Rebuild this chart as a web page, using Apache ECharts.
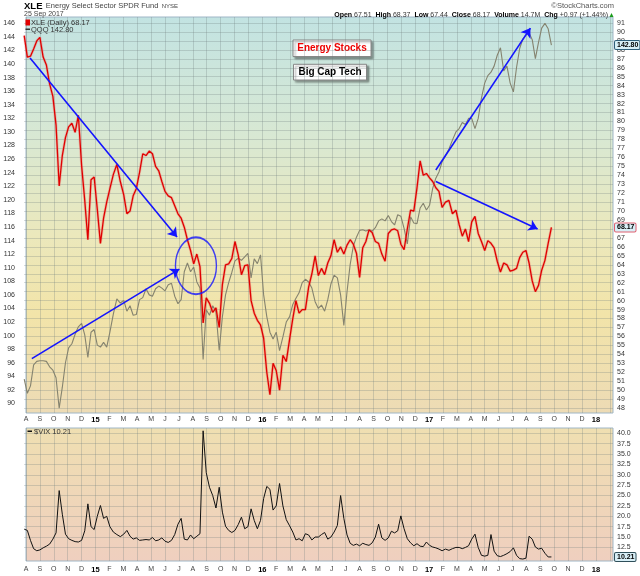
<!DOCTYPE html>
<html><head><meta charset="utf-8">
<script src="https://cdn.jsdelivr.net/npm/echarts@6/dist/echarts.min.js"></script>
<style>html,body{margin:0;padding:0;background:#fff}#c{width:640px;height:576px}</style>
</head><body><div id="c"></div>
<script>
// ---------------- DATA (weekly readings, first week starting 2014-07-28) ----------------
const startDate = '2014-07-28';
const xle = [
 89.6,87.2,87.3,88.1,89.0,89.4,87.2,86.3,84.2,82.8,
 79.6,72.8,76.2,78.2,79.4,79.8,78.8,80.7,75.1,71.2,
 66.8,73.5,73.8,70.2,66.4,69.2,71.0,72.5,74.1,75.2,
 73.3,71.8,69.7,70.0,71.7,72.5,74.3,76.4,76.2,76.7,
 76.4,75.0,74.5,73.3,72.2,71.7,71.5,70.6,69.7,69.2,
 68.2,66.8,65.6,64.1,65.2,63.8,57.5,60.3,59.7,58.7,
 59.2,57.0,61.8,64.0,64.1,64.7,66.6,65.1,62.9,63.9,
 64.0,60.0,58.6,57.8,57.3,55.8,52.0,49.5,53.0,52.2,
 50.0,53.9,53.2,55.7,58.0,60.0,58.6,59.0,59.0,61.5,
 63.0,65.0,62.8,63.6,62.9,64.2,65.0,66.8,65.4,66.0,
 65.2,66.2,66.8,66.3,65.3,62.6,65.9,66.6,67.9,67.6,
 66.6,66.4,65.2,64.4,67.5,67.9,68.0,67.8,66.3,65.7,
 68.0,70.1,70.0,72.6,75.6,74.0,74.2,73.7,73.3,72.6,
 72.2,70.4,71.0,71.2,69.7,70.1,68.5,67.2,68.0,66.6,
 68.8,69.4,67.5,66.6,65.6,66.7,66.4,65.9,64.4,63.2,
 64.2,64.0,63.3,63.4,63.6,64.8,65.4,65.6,64.2,62.2,
 61.0,61.7,63.4,64.5,66.4,68.17
];
const qqq = [
 93.6,91.5,92.6,95.7,96.2,96.3,96.3,96.2,95.4,94.9,
 93.8,89.3,92.4,96.0,98.2,98.8,100.2,101.3,101.8,100.1,
 96.8,100.5,100.9,98.6,98.3,99.0,98.3,100.5,103.2,105.4,
 104.8,105.2,103.6,104.4,103.0,103.1,105.3,105.6,106.9,106.0,
 105.8,106.9,107.3,107.0,106.6,107.5,107.7,105.8,104.7,105.3,
 109.4,110.7,109.4,110.1,107.9,107.0,96.5,103.8,103.0,104.4,
 103.5,97.8,102.8,106.0,107.8,109.3,111.0,111.4,111.1,111.6,
 112.1,108.5,111.3,110.6,111.9,106.0,102.8,100.5,99.5,100.5,
 97.8,99.8,102.0,102.8,104.6,105.5,106.3,107.8,108.3,107.9,
 107.0,105.0,104.0,104.5,103.6,105.3,107.6,108.9,108.5,106.0,
 101.5,106.5,110.5,113.2,114.5,115.5,115.6,115.4,115.6,115.4,
 115.9,116.9,117.2,116.9,117.7,116.8,116.3,117.8,117.6,115.8,
 113.5,117.5,116.6,116.5,118.8,119.5,118.5,119.2,121.7,123.2,
 124.1,125.6,126.5,127.5,128.8,130.0,130.5,131.4,131.1,132.0,
 132.0,130.5,132.0,135.0,137.2,138.3,138.8,139.7,141.3,142.4,
 139.0,139.7,137.2,135.9,139.5,142.3,143.7,144.3,144.6,143.6,
 140.8,143.2,145.3,146.0,145.2,142.8
];
const vix = [
 16.9,16.6,14.2,12.2,11.7,11.9,12.4,12.8,13.3,14.5,
 16.0,26.2,20.5,15.7,14.6,14.2,13.9,13.8,14.2,16.5,
 23.0,17.5,16.8,20.0,22.6,19.5,20.0,17.5,16.2,15.6,
 15.1,15.7,16.6,15.2,14.5,14.8,14.2,14.3,14.4,14.3,
 14.9,14.1,14.3,14.8,14.0,13.7,14.2,15.6,18.1,19.5,
 14.5,14.3,15.5,14.6,15.2,15.8,40.6,30.5,27.0,25.0,
 22.0,27.0,21.0,17.6,16.6,16.1,16.6,18.0,19.8,17.0,
 17.5,21.8,19.0,17.0,19.0,24.3,27.2,26.5,21.5,22.5,
 27.9,22.5,19.2,17.7,16.2,14.3,14.6,14.1,15.8,15.5,
 14.3,15.0,15.0,15.6,16.1,14.5,15.0,16.2,17.8,25.0,
 19.5,15.5,13.5,13.0,13.3,12.9,13.5,13.2,13.0,13.6,
 15.0,18.1,14.8,14.2,14.8,16.4,16.0,16.5,20.1,17.0,
 14.6,13.6,12.9,13.4,12.8,12.7,13.8,13.0,12.6,12.4,
 12.1,11.7,12.1,11.8,12.2,12.5,12.5,12.2,12.5,12.9,
 14.5,15.7,12.5,10.6,10.4,10.6,15.6,11.6,10.5,10.3,
 10.6,11.0,11.5,12.4,10.6,9.8,9.7,9.9,15.2,14.5,
 12.6,12.1,12.3,11.1,10.2,10.21
];
const monthLetters = ['J','F','M','A','M','J','J','A','S','O','N','D'];
const lastXLE = 68.17, lastQQQ = 142.80, lastVIX = 10.21;
const quote = {Open:'67.51', High:'68.37', Low:'67.44', Close:'68.17', Volume:'14.7M', Chg:'+0.97 (+1.44%)'};
// annotation arrows [date, value]
const xleArrows = [[['2014-08-10',87.1],['2015-06-27',67.1]], [['2017-01-16',73.3],['2017-08-26',68.0]]];
const qqqArrows = [[['2014-08-14',96.6],['2015-07-02',109.8]], [['2017-01-16',124.4],['2017-08-10',145.3]]];
const circleAt = ['2015-08-08', 63.9];

// ---------------- helpers ----------------
const DAY = 86400000;
function parseD(s){const p=s.split('-').map(Number);return Date.UTC(p[0],p[1]-1,p[2]);}
function mf(t){const d=new Date(t);const y=d.getUTCFullYear(),m=d.getUTCMonth(),day=d.getUTCDate();
  const dim=new Date(Date.UTC(y,m+1,0)).getUTCDate();return (y-2014)*12+m-7+(day-1)/dim;}
const t0 = parseD(startDate);
const xs = xle.map((_,k)=>mf(t0+k*7*DAY));
const F = '"Liberation Sans", Arial, Helvetica, sans-serif';
const PXM = 13.9;                 // px per month
const xMin = -2/PXM, xMax = (613-26)/PXM;
const XPX = 8.956, QPX = 6.788, VPX = 4.15;
const mainTop = 23 - XPX, mainH = 45*XPX;       // XLE 47..92
const qMax = 88 + mainH/QPX;
const vTop = 433.3 - 2.5*VPX, vH = 32.5*VPX;    // VIX 10..42.5
const isInt = v => Math.abs(v-Math.round(v))<1e-6;
function monthLabel(v){
  if(!isInt(v)) return '';
  const i=Math.round(v); if(i<0||i>41) return '';
  const ma=7+i, mo=ma%12, yr=2014+Math.floor(ma/12);
  return mo===0 ? '{yr|'+String(yr).slice(2)+'}' : monthLetters[mo];
}
const gridCol = 'rgba(110,125,125,0.28)';
const arrowStyle = {color:'#1414ff', width:1.6, type:'solid'};
function arrowData(arr){return arr.map(a=>[{coord:[mf(parseD(a[0][0])),a[0][1]]},{coord:[mf(parseD(a[1][0])),a[1][1]],symbol:'arrow',symbolSize:9}]);}
function tag(val, txt, border){
  return {yAxis:val, lineStyle:{color:'rgba(0,0,0,0)', width:1},
    label:{show:true, position:'end', distance:2, formatter:txt, fontFamily:F, fontSize:7, fontWeight:'bold', color:'#000',
      backgroundColor:'#d8eff7', borderColor:border, borderWidth:1, padding:[1,1,0,2], borderRadius:1}};
}
const xBase = {type:'value', axisLine:{show:false}, axisTick:{show:false}};
const mainGrad = {type:'linear',x:0,y:0,x2:0,y2:1,colorStops:[
  {offset:0,color:'#c2e3e2'},{offset:0.3,color:'#d8e8d3'},{offset:0.55,color:'#ebe8bc'},{offset:0.75,color:'#f2e4a9'},{offset:1,color:'#eddbb5'}]};
const vixGrad = {type:'linear',x:0,y:0,x2:0,y2:1,colorStops:[{offset:0,color:'#efdfb1'},{offset:1,color:'#efcfbf'}]};
const xleData = xle.map((v,k)=>[xs[k],v]);

const chart = echarts.init(document.getElementById('c'));
chart.setOption({
  animation:false,
  backgroundColor:'#fff',
  textStyle:{fontFamily:F},
  grid:[
    {left:24, right:27, top:mainTop, height:mainH, outerBoundsMode:'none'},
    {left:26, right:27, top:17, height:396, show:true, backgroundColor:mainGrad, borderColor:'#9fb6c6', borderWidth:1, outerBoundsMode:'none'},
    {left:24, right:27, top:vTop, height:vH, outerBoundsMode:'none'},
    {left:26, right:27, top:428, height:133, show:true, backgroundColor:vixGrad, borderColor:'#9fb6c6', borderWidth:1, outerBoundsMode:'none'}
  ],
  xAxis:[
    Object.assign({gridIndex:0, min:xMin, max:xMax, show:false}, xBase),
    Object.assign({gridIndex:1, min:0, max:xMax, interval:1,
      splitLine:{show:true, showMaxLine:false, lineStyle:{color:gridCol}},
      axisLabel:{show:true, margin:3, fontSize:7, color:'#444', fontFamily:F, formatter:monthLabel, hideOverlap:false, showMaxLabel:false,
        rich:{yr:{fontSize:7.5, fontWeight:'bold', color:'#000', fontFamily:F}}}}, xBase),
    Object.assign({gridIndex:2, min:xMin, max:xMax, show:false}, xBase),
    Object.assign({gridIndex:3, min:0, max:xMax, interval:1,
      splitLine:{show:true, showMaxLine:false, lineStyle:{color:gridCol}},
      axisLabel:{show:true, margin:5, fontSize:7, color:'#444', fontFamily:F, formatter:monthLabel, hideOverlap:false, showMaxLabel:false,
        rich:{yr:{fontSize:7.5, fontWeight:'bold', color:'#000', fontFamily:F}}}}, xBase)
  ],
  yAxis:[
    {type:'value', gridIndex:0, position:'left', min:88, max:qMax, interval:2,
      axisLine:{show:false}, axisTick:{show:false}, splitLine:{show:false},
      axisLabel:{margin:9, fontSize:7, color:'#333', fontFamily:F, formatter:v=>(isInt(v)&&v>=90&&v<=146)?String(Math.round(v)):''}},
    {type:'value', gridIndex:0, position:'right', min:47, max:92, interval:1,
      axisLine:{show:false}, axisTick:{show:false},
      splitLine:{show:true, showMinLine:false, showMaxLine:false, lineStyle:{color:gridCol}},
      axisLabel:{margin:4, fontSize:7, color:'#333', fontFamily:F, formatter:v=>(isInt(v)&&v>=48&&v<=91)?String(Math.round(v)):''}},
    {type:'value', gridIndex:1, min:0, max:1, show:false},
    {type:'value', gridIndex:2, position:'right', min:10, max:42.5, interval:2.5,
      axisLine:{show:false}, axisTick:{show:false},
      splitLine:{show:true, showMinLine:false, showMaxLine:false, lineStyle:{color:gridCol}},
      axisLabel:{margin:4, fontSize:7, color:'#333', fontFamily:F, formatter:v=>(v>=12.5&&v<=40.01)?v.toFixed(1):''}},
    {type:'value', gridIndex:3, min:0, max:1, show:false}
  ],
  series:[
    {name:'QQQ', type:'line', xAxisIndex:0, yAxisIndex:0, data:qqq.map((v,k)=>[xs[k],v]),
      showSymbol:false, symbol:'none', lineStyle:{color:'#85836f', width:1.1}, z:2, silent:true,
      markLine:{silent:true, symbol:'none', label:{show:false}, lineStyle:arrowStyle,
        data: arrowData(qqqArrows).concat([tag(lastQQQ, lastQQQ.toFixed(2), '#2f5f7a')])}},
    {name:'XLE range', type:'line', xAxisIndex:0, yAxisIndex:1, data:xleData,
      showSymbol:false, symbol:'none', lineStyle:{color:'rgba(235,80,80,0.3)', width:2.8}, z:3, silent:true},
    {name:'XLE', type:'line', xAxisIndex:0, yAxisIndex:1, data:xleData,
      showSymbol:false, symbol:'none', lineStyle:{color:'#e00000', width:1.3}, z:3, silent:true,
      markLine:{silent:true, symbol:'none', label:{show:false}, lineStyle:arrowStyle,
        data: arrowData(xleArrows).concat([tag(lastXLE, lastXLE.toFixed(2), '#e06070')])}},
    {name:'circle', type:'scatter', xAxisIndex:0, yAxisIndex:1, silent:true, z:4,
      data:[[mf(parseD(circleAt[0])), circleAt[1]]], symbol:'circle', symbolSize:[41,57],
      itemStyle:{color:'rgba(0,0,0,0)', borderColor:'#1414ff', borderWidth:1.6}},
    {name:'$VIX', type:'line', xAxisIndex:2, yAxisIndex:3, data:vix.map((v,k)=>[xs[k],v]), clip:false,
      showSymbol:false, symbol:'none', lineStyle:{color:'#111', width:1}, z:3, silent:true,
      markLine:{silent:true, symbol:'none', data:[tag(lastVIX, lastVIX.toFixed(2), '#2f4f5a')]}}
  ],
  graphic:[
    {type:'text', x:24, y:6, z:20, style:{text:'{a|XLE} {b|Energy Select Sector SPDR Fund} {c|NYSE}', verticalAlign:'middle',
      rich:{a:{fontSize:9.5, fontWeight:'bold', fill:'#000', fontFamily:F}, b:{fontSize:7.5, fill:'#444', fontFamily:F}, c:{fontSize:6, fill:'#444', fontFamily:F}}}},
    {type:'text', x:24, y:14.5, z:20, style:{text:'25 Sep 2017', fontSize:7, fill:'#444', fontFamily:F, verticalAlign:'middle'}},
    {type:'text', x:614, y:6, z:20, style:{text:'\u00A9StockCharts.com', fontSize:7.5, fill:'#555', fontFamily:F, align:'right', verticalAlign:'middle'}},
    {type:'text', x:608, y:14.7, z:20, style:{
      text:Object.keys(quote).map(k=>'{l|'+k+'} '+quote[k]).join('  '), align:'right', verticalAlign:'middle',
      fontSize:7, fill:'#333', fontFamily:F, rich:{l:{fontSize:7, fontWeight:'bold', fill:'#000', fontFamily:F}}}},
    {type:'polygon', z:20, shape:{points:[[609.5,17],[613.5,17],[611.5,13]]}, style:{fill:'#1a9a1a'}},
    {type:'rect', z:20, shape:{x:25.5, y:19.5, width:4.5, height:6}, style:{fill:'#e00000'}},
    {type:'text', x:31, y:22.7, z:20, style:{text:'XLE (Daily) '+lastXLE.toFixed(2), fontSize:7.5, fill:'#333', fontFamily:F, verticalAlign:'middle'}},
    {type:'rect', z:20, shape:{x:25.5, y:28.5, width:4.5, height:1.5}, style:{fill:'#333'}},
    {type:'text', x:31, y:29.5, z:20, style:{text:'QQQ '+lastQQQ.toFixed(2), fontSize:7.5, fill:'#333', fontFamily:F, verticalAlign:'middle'}},
    {type:'rect', z:20, shape:{x:27.5, y:430.5, width:4.5, height:1.5}, style:{fill:'#111'}},
    {type:'text', x:34, y:431.5, z:20, style:{text:'$VIX '+lastVIX.toFixed(2), fontSize:7.5, fill:'#333', fontFamily:F, verticalAlign:'middle'}},
    {type:'group', z:30, children:[
      {type:'rect', shape:{x:293, y:40, width:78, height:16.5}, style:{fill:'#fff', stroke:'#888', lineWidth:1, shadowBlur:2, shadowOffsetX:2, shadowOffsetY:2, shadowColor:'rgba(0,0,0,0.35)'}},
      {type:'text', x:332, y:48.5, style:{text:'Energy Stocks', fontSize:10, fontWeight:'bold', fill:'#ee0000', fontFamily:F, align:'center', verticalAlign:'middle'}},
      {type:'rect', shape:{x:293.5, y:64.3, width:73, height:15.7}, style:{fill:'#fff', stroke:'#888', lineWidth:1, shadowBlur:2, shadowOffsetX:2, shadowOffsetY:2, shadowColor:'rgba(0,0,0,0.35)'}},
      {type:'text', x:330, y:72.3, style:{text:'Big Cap Tech', fontSize:10, fontWeight:'bold', fill:'#000', fontFamily:F, align:'center', verticalAlign:'middle'}}
    ]}
  ]
});
</script></body></html>
